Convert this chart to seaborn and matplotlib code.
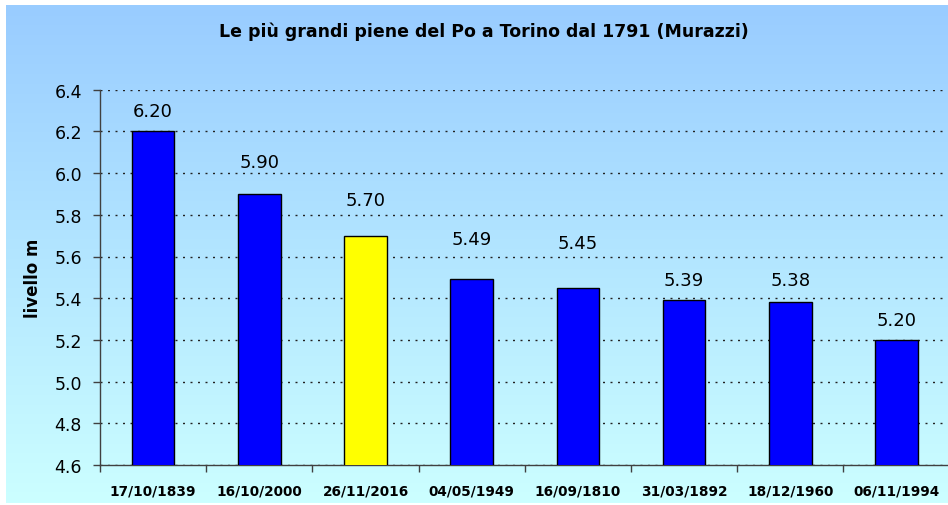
import numpy as np
import pandas as pd
import matplotlib
matplotlib.use("Agg")
import matplotlib.pyplot as plt
import seaborn as sns
from matplotlib.colors import LinearSegmentedColormap
from matplotlib.ticker import FixedLocator

# Flood dates (ordered by peak level) and hydrometric level in metres
dates = ["17/10/1839", "16/10/2000", "26/11/2016", "04/05/1949",
         "16/09/1810", "31/03/1892", "18/12/1960", "06/11/1994"]
levels = [6.20, 5.90, 5.70, 5.49, 5.45, 5.39, 5.38, 5.20]
bar_colors = ["#0000FF", "#0000FF", "#FFFF00", "#0000FF",
              "#0000FF", "#0000FF", "#0000FF", "#0000FF"]

title = "Le più grandi piene del Po a Torino dal 1791 (Murazzi)"
y_label = "livello m"
y_ticks = [4.6, 4.8, 5.0, 5.2, 5.4, 5.6, 5.8, 6.0, 6.2, 6.4]

# Vertical lift (points) of each value label above its bar
label_lift = [11.2, 19.2, 22.0, 25.2, 28.8, 11.3, 12.7, 10.6]

sns.set_theme(style="white")
plt.rcParams["font.family"] = ["DejaVu Sans"]
plt.rcParams["lines.scale_dashes"] = False
plt.rcParams["text.color"] = "black"
plt.rcParams["axes.labelcolor"] = "black"
plt.rcParams["xtick.color"] = "black"
plt.rcParams["ytick.color"] = "black"

W, H = 948, 506
fig = plt.figure(figsize=(W / 100, H / 100), dpi=100)
fig.patch.set_facecolor("white")

# Sky-blue gradient panel behind the chart
bg = fig.add_axes([6 / W, 2 / H, (W - 6) / W, (H - 8) / H])
grad = np.linspace(0, 1, 256).reshape(-1, 1)
cmap = LinearSegmentedColormap.from_list("sky", ["#99CCFF", "#CCFFFF"])
bg.imshow(grad, aspect="auto", cmap=cmap, extent=[0, 1, 0, 1], origin="upper")
bg.set_axis_off()

ax = fig.add_axes([100 / W, 40 / H, 849.6 / W, 375.3 / H])
ax.patch.set_alpha(0)

df = pd.DataFrame({"data": dates, "livello": levels})
sns.barplot(data=df, x="data", y="livello", hue="data", palette=bar_colors,
            width=0.4, edgecolor="black", linewidth=1, saturation=1,
            legend=False, ax=ax, zorder=3)

ax.set_xlim(-0.5, 7.5)
ax.set_ylim(4.6, 6.4)
ax.set_yticks(y_ticks)
ax.set_yticklabels([f"{t:.1f}" for t in y_ticks], fontsize=12.5, color="black")
ax.set_xticks(range(len(dates)))
ax.set_xticklabels(dates, fontsize=9.8, fontweight="bold", color="black")
ax.xaxis.set_minor_locator(FixedLocator(np.arange(-0.5, len(dates), 1)))

ax.set_axisbelow(True)
ax.yaxis.grid(True, color="#222222", linestyle=(0, (1.44, 3.96)), linewidth=1)
ax.xaxis.grid(False)

for s in ("top", "right"):
    ax.spines[s].set_visible(False)
for s in ("left", "bottom"):
    ax.spines[s].set_color("#404040")
    ax.spines[s].set_linewidth(1)

ax.tick_params(axis="y", left=True, direction="out", length=5, width=1,
               color="#404040", pad=8)
ax.tick_params(axis="x", which="major", bottom=True, length=0, pad=13)
ax.tick_params(axis="x", which="minor", bottom=True, direction="out",
               length=5, width=1, color="#404040")

ax.set_xlabel("")
ax.set_ylabel(y_label, fontsize=12, fontweight="bold", color="black")
ax.yaxis.set_label_coords(-0.068, 0.5)

for i, (v, lift) in enumerate(zip(levels, label_lift)):
    ax.annotate(f"{v:.2f}", (i, v), xytext=(0, lift), textcoords="offset points",
                ha="center", va="baseline", fontsize=13, color="black")

fig.text(484 / W, 1 - 32 / H, title, ha="center", va="center",
         fontsize=12.5, fontweight="bold", color="black")

fig.savefig("out.png", dpi=100, facecolor="white")
